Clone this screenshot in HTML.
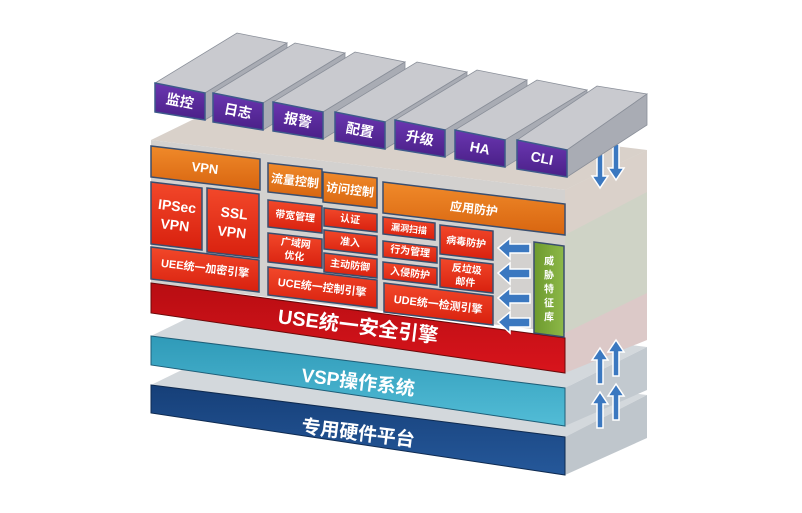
<!DOCTYPE html>
<html><head><meta charset="utf-8"><style>
html,body{margin:0;padding:0;background:#fff;}
svg{display:block;}
text{font-family:"Liberation Sans","Noto Sans CJK SC",sans-serif;font-weight:bold;fill:#fff;text-anchor:middle;dominant-baseline:central;}
</style></head><body>
<svg width="802" height="513" viewBox="0 0 802 513" xmlns="http://www.w3.org/2000/svg">
<defs>
<linearGradient id="red" x1="0" y1="0" x2="0" y2="1"><stop offset="0" stop-color="#f2482a"/><stop offset="1" stop-color="#d8200e"/></linearGradient>
<linearGradient id="org" x1="0" y1="0" x2="0" y2="1"><stop offset="0" stop-color="#f08a2a"/><stop offset="1" stop-color="#d86510"/></linearGradient>
<linearGradient id="use" x1="0" y1="0" x2="0" y2="1"><stop offset="0" stop-color="#b80d12"/><stop offset="1" stop-color="#d8141c"/></linearGradient>
<linearGradient id="vsp" x1="0" y1="0" x2="0" y2="1"><stop offset="0" stop-color="#2f9ab8"/><stop offset="1" stop-color="#52bcd6"/></linearGradient>
<linearGradient id="hw" x1="0" y1="0" x2="0" y2="1"><stop offset="0" stop-color="#163f78"/><stop offset="1" stop-color="#25589a"/></linearGradient>
<linearGradient id="pur" x1="0" y1="0" x2="0" y2="1"><stop offset="0" stop-color="#6a36b0"/><stop offset="1" stop-color="#4a2088"/></linearGradient>
<linearGradient id="grn" x1="0" y1="0" x2="1" y2="0"><stop offset="0" stop-color="#6d9a2e"/><stop offset="1" stop-color="#8db848"/></linearGradient>
</defs>

<polygon points="151,385 565,437 647,395 233,345" fill="#d3d8dc"/>
<polygon points="565,437 647,395 647,438 565,475" fill="#bfc6cc"/>
<polygon points="151,385 565,437 565,475 151,413" fill="url(#hw)" stroke="#0e2a50" stroke-width="1"/>
<text x="358" y="434" font-size="19" transform="rotate(7 358 434)">专用硬件平台</text>

<polygon points="151,336 565,388 647,347 233,296" fill="#d3d8dc"/>
<polygon points="565,388 647,347 647,390 565,426" fill="#c2c9cf"/>
<polygon points="151,336 565,388 565,426 151,365" fill="url(#vsp)" stroke="#1e5e78" stroke-width="1"/>
<text x="358" y="383" font-size="19" transform="rotate(7 358 383)">VSP操作系统</text>

<polygon points="151,140 565,190 647,150 233,100" fill="#d9d1ca"/>
<polygon points="565,190 647,150 647,300 565,333" fill="#cfd3c6"/>
<polygon points="565,190 647,150 647,192 565,235" fill="#dad1ca"/>
<polygon points="565,333 647,293 647,340 565,373" fill="#dcc9c8"/>
<polygon points="151,140 565,190 565,333 151,283" fill="#d3d1cf"/>

<polygon points="151,283 565,338 565,373 151,313" fill="url(#use)" stroke="#6a0a0a" stroke-width="1"/>
<text x="358" y="327" font-size="20" transform="rotate(7 358 327)">USE统一安全引擎</text>

<g stroke="#3a4e6e" stroke-width="1.5">
<polygon points="151,146 260,159 260,190 151,177" fill="url(#org)"/>
<polygon points="151,182 202,188 202,250 151,244" fill="url(#red)"/>
<polygon points="207,188 259,194 259,258 207,252" fill="url(#red)"/>
<polygon points="151,247 259,260 259,292 151,279" fill="url(#red)"/>
<polygon points="268,163 322,169 322,198 268,192" fill="url(#org)"/>
<polygon points="323,172 377,178 377,208 323,202" fill="url(#org)"/>
<polygon points="268,200 322,206 322,233 268,227" fill="url(#red)"/>
<polygon points="268,233 322,239 322,268 268,262" fill="url(#red)"/>
<polygon points="324,208 377,214 377,232 324,226" fill="url(#red)"/>
<polygon points="324,230 377,236 377,255 324,249" fill="url(#red)"/>
<polygon points="324,253 377,259 377,278 324,272" fill="url(#red)"/>
<polygon points="268,267 377,280 377,308 268,295" fill="url(#red)"/>
<polygon points="383,182 565,204 565,235 383,213" fill="url(#org)"/>
<polygon points="383,217 435,223 435,240 383,234" fill="url(#red)"/>
<polygon points="383,241 437,247 437,263 383,257" fill="url(#red)"/>
<polygon points="383,262 437,268 437,285 383,279" fill="url(#red)"/>
<polygon points="440,225 493,231 493,260 440,254" fill="url(#red)"/>
<polygon points="440,258 493,264 493,293 440,287" fill="url(#red)"/>
<polygon points="384,283 493,296 493,325 384,312" fill="url(#red)"/>
<polygon points="534,242 564,246 564,337 534,333" fill="url(#grn)"/>
</g>
<text x="205" y="168" font-size="13" transform="rotate(6.8 205 168)">VPN</text>
<text x="176" y="206" font-size="14" transform="rotate(6.8 176 216)">IPSec</text>
<text x="176" y="225" font-size="14" transform="rotate(6.8 176 216)">VPN</text>
<text x="233" y="213" font-size="14" transform="rotate(6.8 233 223)">SSL</text>
<text x="233" y="232" font-size="14" transform="rotate(6.8 233 223)">VPN</text>
<text x="205" y="269" font-size="11" transform="rotate(6.8 205 269)">UEE统一加密引擎</text>
<text x="295" y="181" font-size="12" transform="rotate(6.8 295 181)">流量控制</text>
<text x="350" y="190" font-size="12" transform="rotate(6.8 350 190)">访问控制</text>
<text x="295" y="217" font-size="10" transform="rotate(6.8 295 217)">带宽管理</text>
<text x="295" y="244" font-size="10" transform="rotate(6.8 295 250)">广域网</text>
<text x="295" y="257" font-size="10" transform="rotate(6.8 295 250)">优化</text>
<text x="350" y="220" font-size="10" transform="rotate(6.8 350 220)">认证</text>
<text x="350" y="243" font-size="10" transform="rotate(6.8 350 243)">准入</text>
<text x="350" y="266" font-size="10" transform="rotate(6.8 350 266)">主动防御</text>
<text x="322" y="288" font-size="11" transform="rotate(6.8 322 288)">UCE统一控制引擎</text>
<text x="474" y="209" font-size="12" transform="rotate(6.8 474 209)">应用防护</text>
<text x="409" y="229" font-size="9" transform="rotate(6.8 409 229)">漏洞扫描</text>
<text x="410" y="252" font-size="10" transform="rotate(6.8 410 252)">行为管理</text>
<text x="410" y="274" font-size="10" transform="rotate(6.8 410 274)">入侵防护</text>
<text x="466" y="243" font-size="10" transform="rotate(6.8 466 243)">病毒防护</text>
<text x="466" y="270" font-size="10" transform="rotate(6.8 466 276)">反垃圾</text>
<text x="466" y="283" font-size="10" transform="rotate(6.8 466 276)">邮件</text>
<text x="438" y="305" font-size="11" transform="rotate(6.8 438 305)">UDE统一检测引擎</text>
<text x="549" y="262" font-size="10">威</text>
<text x="549" y="276" font-size="10">胁</text>
<text x="549" y="290" font-size="10">特</text>
<text x="549" y="304" font-size="10">征</text>
<text x="549" y="318" font-size="10">库</text>

<g fill="#3b78c0" stroke="#fff" stroke-width="1.5">
<polygon points="498,248 510,238 510,244 530,244 530,253 510,253 510,259"/>
<polygon points="498,273 510,263 510,269 530,269 530,278 510,278 510,284"/>
<polygon points="498,298 510,288 510,294 530,294 530,303 510,303 510,309"/>
<polygon points="498,322 510,312 510,318 530,318 530,327 510,327 510,333"/>
<polygon points="600,188 592,176 597,176 597,152 603,152 603,176 608,176"/>
<polygon points="616,180 608,168 613,168 613,144 619,144 619,168 624,168"/>
<polygon points="600,348 592,360 597,360 597,384 603,384 603,360 608,360"/>
<polygon points="616,340 608,352 613,352 613,376 619,376 619,352 624,352"/>
<polygon points="600,392 592,404 597,404 597,428 603,428 603,404 608,404"/>
<polygon points="616,384 608,396 613,396 613,420 619,420 619,396 624,396"/>
</g>

<g stroke="#8a8f99" stroke-width="0.8">
<polygon points="155,83 205,93 287,43 237,33" fill="#c9cacf"/><polygon points="205,93 287,43 287,70 205,120" fill="#a9acb4"/>
<polygon points="155,83 205,93 205,120 155,112" fill="url(#pur)" stroke="#3d5a8a" stroke-width="1.5"/>
<polygon points="213,93 263,103 345,53 295,43" fill="#c9cacf"/><polygon points="263,103 345,53 345,80 263,130" fill="#a9acb4"/>
<polygon points="213,93 263,103 263,130 213,122" fill="url(#pur)" stroke="#3d5a8a" stroke-width="1.5"/>
<polygon points="273,102 323,112 405,62 355,52" fill="#c9cacf"/><polygon points="323,112 405,62 405,89 323,139" fill="#a9acb4"/>
<polygon points="273,102 323,112 323,139 273,131" fill="url(#pur)" stroke="#3d5a8a" stroke-width="1.5"/>
<polygon points="335,112 385,122 467,72 417,62" fill="#c9cacf"/><polygon points="385,122 467,72 467,99 385,149" fill="#a9acb4"/>
<polygon points="335,112 385,122 385,149 335,141" fill="url(#pur)" stroke="#3d5a8a" stroke-width="1.5"/>
<polygon points="395,120 445,130 527,80 477,70" fill="#c9cacf"/><polygon points="445,130 527,80 527,107 445,157" fill="#a9acb4"/>
<polygon points="395,120 445,130 445,157 395,149" fill="url(#pur)" stroke="#3d5a8a" stroke-width="1.5"/>
<polygon points="455,130 505,140 587,90 537,80" fill="#c9cacf"/><polygon points="505,140 587,90 587,117 505,167" fill="#a9acb4"/>
<polygon points="455,130 505,140 505,167 455,159" fill="url(#pur)" stroke="#3d5a8a" stroke-width="1.5"/>
<polygon points="517,140 567,150 647,94 597,86" fill="#c9cacf"/><polygon points="567,150 647,94 647,125 567,177" fill="#a9acb4"/>
<polygon points="517,140 567,150 567,177 517,169" fill="url(#pur)" stroke="#3d5a8a" stroke-width="1.5"/>
</g>
<text x="180" y="101" font-size="14" transform="rotate(11 180 101)">监控</text>
<text x="238" y="111" font-size="14" transform="rotate(11 238 111)">日志</text>
<text x="298" y="120" font-size="14" transform="rotate(11 298 120)">报警</text>
<text x="360" y="130" font-size="14" transform="rotate(11 360 130)">配置</text>
<text x="420" y="138" font-size="14" transform="rotate(11 420 138)">升级</text>
<text x="480" y="148" font-size="14" transform="rotate(11 480 148)">HA</text>
<text x="542" y="158" font-size="14" transform="rotate(11 542 158)">CLI</text>
</svg>
</body></html>
